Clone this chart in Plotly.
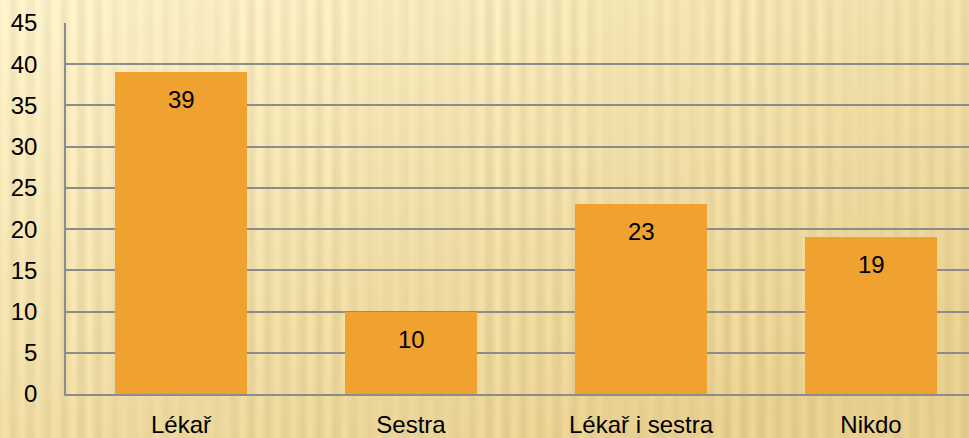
import base64, struct, zlib
import numpy as np
import plotly.graph_objects as go

categories = ["Lékař", "Sestra", "Lékař i sestra", "Nikdo"]
values = [39, 10, 23, 19]
y_ticks = [0, 5, 10, 15, 20, 25, 30, 35, 40, 45]

W, H = 969, 438
ML, MR, MT, MB = 66, 0, 23, 44
PW, PH = W - ML - MR, H - MT - MB

# --- textured gold background (style only) ---
def make_bg(w, h):
    xs = np.arange(w)[None, :].astype(float)
    ys = np.arange(h)[:, None].astype(float)
    t = np.clip(0.5 * xs / w + 0.65 * ys / h, 0, 1)
    light = np.array([251, 240, 200], float)
    dark = np.array([231, 207, 142], float)
    base = light[None, None, :] * (1 - t[..., None]) + dark[None, None, :] * t[..., None]
    amp = 5 + 2.5 * np.sin(xs / 37.0) + 1.5 * np.sin(xs / 13.0 + 1.3)
    stripe = amp * np.sin(2 * np.pi * xs / 17.0) + 1.0 * np.sin(2 * np.pi * xs / 7.3 + 0.7)
    stripe = stripe * (1 + 0.15 * np.sin(ys / 23.0))
    img = base + stripe[..., None] * np.array([1.0, 0.95, 0.75])[None, None, :]
    img = np.clip(img, 0, 255).astype(np.uint8)
    raw = b"".join(b"\x00" + img[r].tobytes() for r in range(h))
    def chunk(tag, data):
        c = struct.pack(">I", len(data)) + tag + data
        return c + struct.pack(">I", zlib.crc32(tag + data) & 0xffffffff)
    png = b"\x89PNG\r\n\x1a\n" + chunk(b"IHDR", struct.pack(">IIBBBBB", w, h, 8, 2, 0, 0, 0)) \
        + chunk(b"IDAT", zlib.compress(raw, 9)) + chunk(b"IEND", b"")
    return "data:image/png;base64," + base64.b64encode(png).decode()

bg = make_bg(W, H)

FONT = "Liberation Sans"
FS = 24
px_per_cat = 230
x0 = -0.5
x1 = x0 + PW / px_per_cat

fig = go.Figure()
fig.add_trace(go.Bar(
    x=list(range(len(categories))), y=values,
    marker=dict(color="#EFA230", line=dict(width=0)),
    width=0.57, showlegend=False, hoverinfo="skip",
))
for i, v in enumerate(values):
    fig.add_annotation(x=i, y=v, text=str(v), showarrow=False, yanchor="top", yshift=-12,
                       font=dict(family=FONT, size=FS, color="#000000"))

fig.update_layout(
    width=W, height=H,
    margin=dict(l=ML, r=MR, t=MT, b=MB, pad=0, autoexpand=False),
    paper_bgcolor="#F0DCA5",
    plot_bgcolor="rgba(0,0,0,0)",
    font=dict(family=FONT, size=FS, color="#000000"),
    bargap=0,
    images=[dict(source=bg, xref="paper", yref="paper",
                 x=-ML / PW, y=1 + MT / PH, sizex=W / PW, sizey=H / PH,
                 xanchor="left", yanchor="top", sizing="stretch", layer="below")],
)
fig.update_xaxes(
    range=[x0, x1], tickmode="array", tickvals=list(range(len(categories))), ticktext=categories,
    showgrid=False, showline=True, linecolor="#8C8C8C", linewidth=1.5, ticks="",
    ticklabelstandoff=8, zeroline=False, fixedrange=True, automargin=False,
)
fig.update_yaxes(
    range=[0, 45], tickmode="array", tickvals=y_ticks, ticktext=[str(t) for t in y_ticks],
    showgrid=True, gridcolor="#8C8C8C", gridwidth=1.5,
    showline=True, linecolor="#8C8C8C", linewidth=1.5, ticks="",
    ticklabelstandoff=22, zeroline=False, fixedrange=True, automargin=False,
)
fig.write_html("out.html", config={"displayModeBar": False},
               post_script="document.body.style.margin='0';document.body.style.overflow='hidden';")
